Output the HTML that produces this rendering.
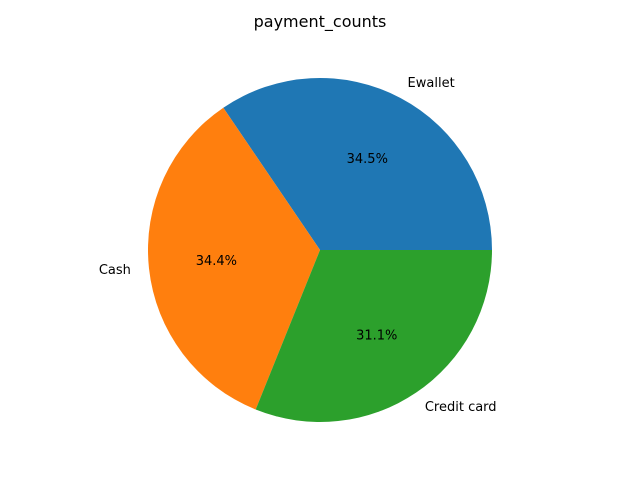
<!DOCTYPE html>
<html><head><meta charset="utf-8"><style>
body{margin:0;background:#fff}
svg{display:block;font-family:"DejaVu Sans","Liberation Sans",sans-serif}
</style></head><body>
<svg id="chart" width="640" height="480">
<rect width="640" height="480" fill="#fff"/>
<text x="320" y="27" text-anchor="middle" font-size="16">payment_counts</text>
<g id="slices"></g>
</svg>
<script>
const categories = ["Ewallet", "Cash", "Credit card"];
const values = [345, 344, 311];
const colors = ["#1f77b4", "#ff7f0e", "#2ca02c"];
const cx = 320, cy = 250, r = 172;
const g = document.getElementById('slices');
const ns = 'http://www.w3.org/2000/svg';
const total = values.reduce((a, b) => a + b, 0);
let a0 = 0;
function pt(a, rr){ return [cx + rr*Math.cos(a), cy - rr*Math.sin(a)]; }
values.forEach((v, i) => {
  const a1 = a0 + v/total*2*Math.PI;
  const [x0,y0] = pt(a0, r), [x1,y1] = pt(a1, r);
  const large = (a1 - a0) > Math.PI ? 1 : 0;
  const p = document.createElementNS(ns, 'path');
  p.setAttribute('d', `M${cx},${cy} L${x0},${y0} A${r},${r} 0 ${large} 0 ${x1},${y1} Z`);
  p.setAttribute('fill', colors[i]);
  
  
  g.appendChild(p);
  const am = (a0 + a1)/2;
  const [lx, ly] = pt(am, r*1.1);
  const t = document.createElementNS(ns, 'text');
  t.setAttribute('x', lx - 1); t.setAttribute('y', ly + 4);
  t.setAttribute('font-size', '13');
  t.setAttribute('text-anchor', Math.cos(am) >= 0 ? 'start' : 'end');
  t.textContent = categories[i];
  
  
  g.appendChild(t);
  const [px, py] = pt(am, r*0.6);
  const tp = document.createElementNS(ns, 'text');
  tp.setAttribute('x', px - 1); tp.setAttribute('y', py + 4);
  tp.setAttribute('font-size', '13');
  tp.setAttribute('text-anchor', 'middle');
  tp.textContent = (v/total*100).toFixed(1) + '%';
  
  
  g.appendChild(tp);
  a0 = a1;
});
</script>
</body></html>
